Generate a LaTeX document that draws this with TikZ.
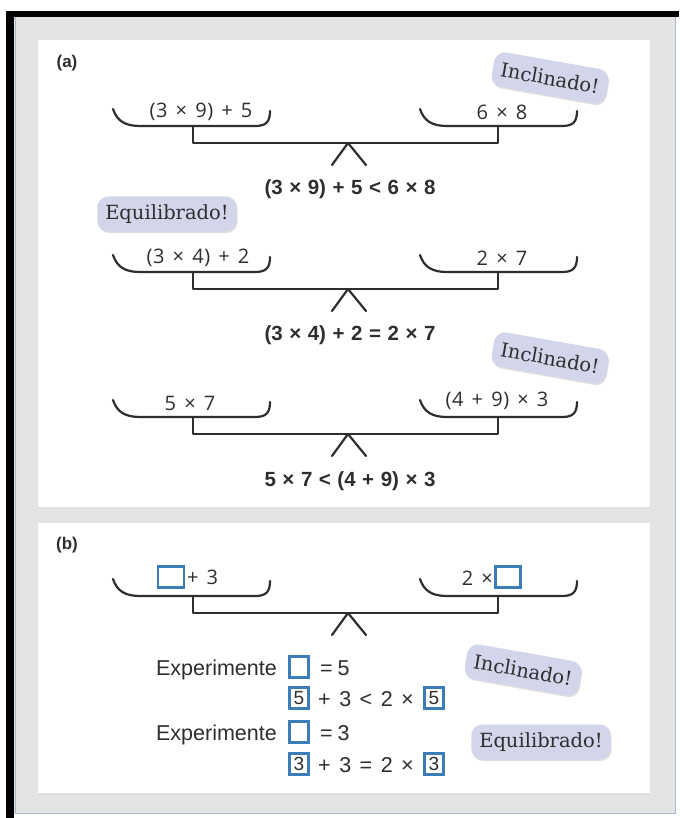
\documentclass[tikz,border=0pt]{standalone}
\usepackage{fontspec}
\setmainfont{Liberation Sans}
\newfontfamily\capfont{Liberation Sans}[WordSpace=1.15]
\newfontfamily\handfont{Open Sans}[LetterSpace=3, WordSpace=1.4]
\newfontfamily\tagfont{DejaVu Serif}
\usetikzlibrary{shadows}
\definecolor{ink}{HTML}{2E2E2E}
\definecolor{tagfill}{HTML}{D3D6EB}
\definecolor{boxblue}{HTML}{3C7DB8}
\definecolor{framegray}{HTML}{E4E4E6}
\definecolor{frameline}{HTML}{A9B6D3}
\newcommand\gp{\hspace{8.5pt}}
\tikzset{
  ln/.style={draw=ink, line width=2.2pt, line cap=round, line join=round},
  hand/.style={font=\handfont\fontsize{20}{24}\selectfont, text=ink, inner sep=0pt},
  captxt/.style={font=\capfont\bfseries\fontsize{20.5}{24}\selectfont, text=ink, inner sep=0pt},
  sans/.style={font=\fontsize{21.5}{24}\selectfont, text=ink, inner sep=0pt},
  lbl/.style={font=\bfseries\fontsize{17}{20}\selectfont, text=ink, inner sep=0pt},
  tagbox/.style={font=\tagfont\fontsize{19.5}{22}\selectfont, text=ink, fill=tagfill,
    rounded corners=11pt, minimum height=35pt, inner xsep=8pt,
    drop shadow={opacity=0.25, shadow xshift=0.8pt, shadow yshift=-1.5pt}},
  bluebox/.style={draw=boxblue, line width=2.2pt, fill=white, minimum width=19pt,
    minimum height=21pt, inner sep=0pt, font=\fontsize{19}{22}\selectfont, text=ink},
}
% #1 = beam y, #2 = name prefix
\newcommand\panpair[2]{%
  \draw[ln] (113,#1-34) .. controls (117,#1-22) and (125,#1-17) .. (140,#1-17)
     -- (255,#1-17) .. controls (266,#1-17) and (270,#1-21) .. (270,#1-32);
  \draw[ln] (420,#1-34) .. controls (424,#1-22) and (432,#1-17) .. (447,#1-17)
     -- (562,#1-17) .. controls (573,#1-17) and (577,#1-21) .. (577,#1-32);
  \coordinate (#2L) at (193,#1);
  \coordinate (#2R) at (498,#1);
  \coordinate (#2A) at (348,#1);
  \coordinate (#2lp) at (193,#1-17);
  \coordinate (#2rp) at (498,#1-17);
  \coordinate (#2f1) at (332,#1+22);
  \coordinate (#2f2) at (366,#1+22);
  \draw[ln] (#2lp) -- (#2L) -- (#2R) -- (#2rp);
  \draw[ln] (#2f1) -- (#2A) -- (#2f2);
}
\begin{document}
\begin{tikzpicture}[x=1pt,y=-1pt]
\useasboundingbox (0,0) rectangle (679,818);
\fill[white] (0,0) rectangle (679,818);
% frame
\fill[framegray] (14,16) rectangle (676,814);
\draw[frameline, line width=1pt] (15,17) rectangle (675,813);
\fill[black] (6,11) rectangle (679,17);
\fill[black] (6,11) rectangle (14,818);
% panels
\fill[black!12] (38,42) rectangle (650,509);
\fill[white] (38,40) rectangle (650,507);
\fill[black!12] (38,525) rectangle (650,795);
\fill[white] (38,523) rectangle (650,793);

% ---------- panel (a)
\node[lbl] (la) at (67,63) {(a)};

\panpair{143}{p}
\node[hand] (p1l) at (201,112) {(3 × 9) + 5};
\node[hand] (p1r) at (502,112) {6 × 8};
\node[captxt] (c1) at (350,189) {(3 × 9) + 5 < 6 × 8};

\panpair{289}{q}
\node[hand] (p2l) at (198,258) {(3 × 4) + 2};
\node[hand] (p2r) at (502,258) {2 × 7};
\node[captxt] (c2) at (350,335) {(3 × 4) + 2 = 2 × 7};

\panpair{434}{r}
\node[hand] (p3l) at (190,403) {5 × 7};
\node[hand] (p3r) at (497,401) {(4 + 9) × 3};
\node[captxt] (c3) at (350,481) {5 × 7 < (4 + 9) × 3};

\node[tagbox, rotate=-10] (t1) at (550,78) {Inclinado!};
\node[tagbox] (t2) at (167,214) {Equilibrado!};
\node[tagbox, rotate=-10] (t3) at (550,358) {Inclinado!};

% ---------- panel (b)
\node[lbl] (lb) at (67,545) {(b)};

\panpair{613}{s}
\node[bluebox, minimum width=26pt] (bl) at (171,577) {};
\node[hand, anchor=west] (pbl) at (187,577) {+ 3};
\node[hand, anchor=east] (pbr) at (493,578) {2 ×};
\node[bluebox, minimum width=25pt] (br) at (508,577) {};

\node[sans, anchor=base east] (e1) at (277,675) {Experimente};
\node[bluebox] (b1) at (299,667) {};
\node[sans, anchor=base west] (q1) at (320,675) {=\hspace{5pt}5};

\node[bluebox] (b2) at (299,698) {5};
\node[sans, anchor=base west] (r2) at (318,706) {+\gp 3\gp <\gp 2\gp ×};
\node[bluebox] (b3) at (434,698) {5};

\node[sans, anchor=base east] (e2) at (277,740) {Experimente};
\node[bluebox] (b4) at (299,732) {};
\node[sans, anchor=base west] (q2) at (320,740) {=\hspace{5pt}3};

\node[bluebox] (b5) at (299,764) {3};
\node[sans, anchor=base west] (r4) at (318,772) {+\gp 3\gp =\gp 2\gp ×};
\node[bluebox] (b6) at (434,764) {3};

\node[tagbox, rotate=-10] (t4) at (523,670) {Inclinado!};
\node[tagbox] (t5) at (541,742) {Equilibrado!};
\end{tikzpicture}
\end{document}
